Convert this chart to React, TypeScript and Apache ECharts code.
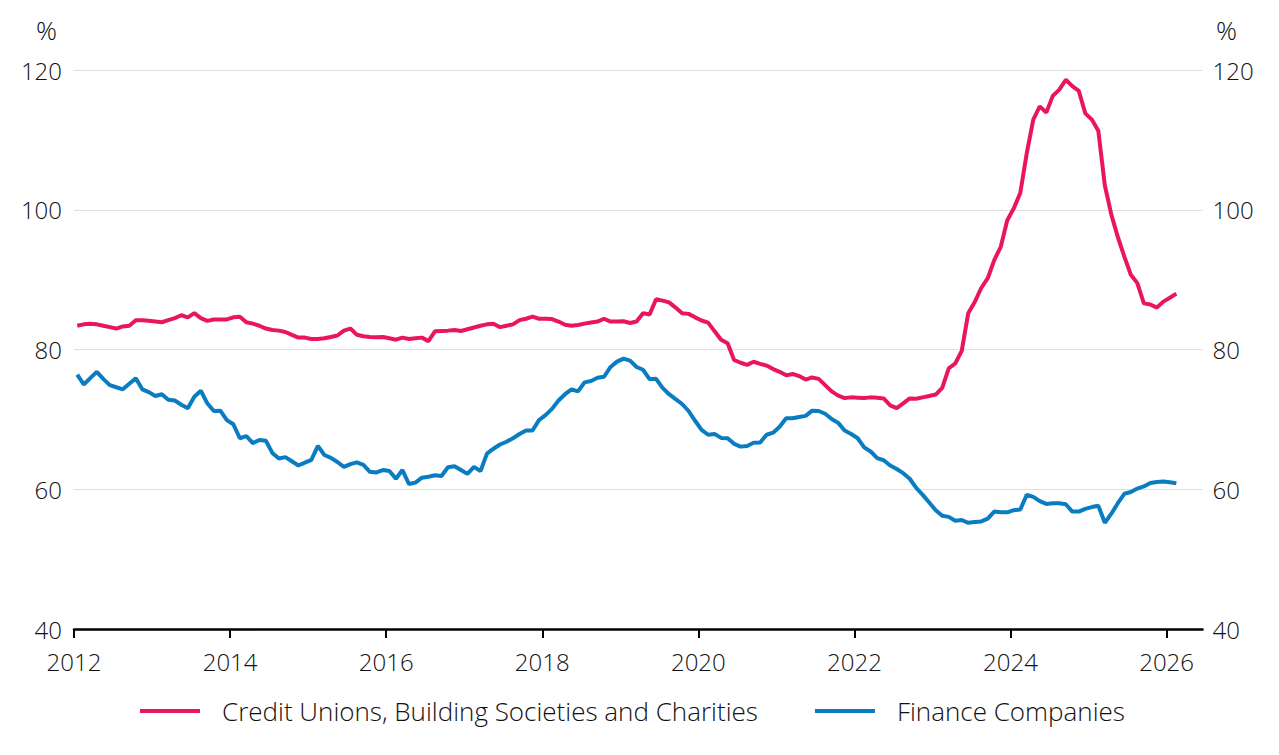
import React, { useEffect, useRef } from "react";
import * as echarts from "echarts";

// Monthly observations, January 2012 onwards (per cent)
const START_YEAR = 2012;

const yearTicks = [2012, 2014, 2016, 2018, 2020, 2022, 2024, 2026];

const creditUnions = [
  83.4, 83.6, 83.7, 83.6, 83.4, 83.2, 83.0, 83.3, 83.4, 84.2, 84.2, 84.1,
  84.0, 83.9, 84.2, 84.5, 84.9, 84.6, 85.2, 84.5, 84.1, 84.3, 84.3, 84.3,
  84.6, 84.7, 83.9, 83.7, 83.4, 83.0, 82.8, 82.7, 82.5, 82.1, 81.7, 81.7,
  81.5, 81.5, 81.6, 81.8, 82.0, 82.7, 83.0, 82.1, 81.9, 81.8, 81.75, 81.8,
  81.6, 81.4, 81.7, 81.5, 81.6, 81.7, 81.2, 82.6, 82.65, 82.7, 82.8, 82.65,
  82.9, 83.15, 83.4, 83.6, 83.7, 83.2, 83.4, 83.6, 84.2, 84.4, 84.7, 84.4,
  84.4, 84.36, 84.0, 83.55, 83.4, 83.5, 83.7, 83.85, 84.0, 84.4, 84.0, 84.0,
  84.05, 83.8, 84.0, 85.2, 85.0, 87.2, 87.0, 86.75, 86.0, 85.2, 85.1, 84.6,
  84.15, 83.85, 82.6, 81.4, 80.9, 78.5, 78.1, 77.8, 78.25, 77.95, 77.7, 77.2,
  76.8, 76.3, 76.5, 76.2, 75.7, 76.0, 75.8, 74.9, 74.0, 73.4, 73.05, 73.15,
  73.1, 73.05, 73.15, 73.1, 73.0, 72.0, 71.6, 72.3, 73.0, 72.95, 73.15, 73.35,
  73.55, 74.5, 77.3, 78.0, 79.8, 85.2, 86.8, 88.8, 90.2, 92.8, 94.7, 98.5,
  100.2, 102.4, 108.1, 112.9, 114.8, 113.9, 116.3, 117.2, 118.6, 117.7, 117.0, 113.8,
  112.9, 111.3, 103.5, 99.3, 96.1, 93.3, 90.7, 89.5, 86.6, 86.45, 86.0, 86.85,
  87.4, 88.0,
];

const financeCompanies = [
  76.4, 75.0, 75.9, 76.8, 75.8, 74.9, 74.6, 74.3, 75.1, 75.9, 74.3, 73.9,
  73.35, 73.6, 72.8, 72.7, 72.1, 71.6, 73.25, 74.1, 72.3, 71.2, 71.25, 69.9,
  69.3, 67.3, 67.6, 66.6, 67.05, 66.95, 65.2, 64.4, 64.6, 64.0, 63.4, 63.8,
  64.2, 66.2, 64.9, 64.5, 63.9, 63.2, 63.6, 63.85, 63.5, 62.5, 62.4, 62.75,
  62.6, 61.5, 62.75, 60.75, 60.95, 61.65, 61.8, 62.0, 61.9, 63.15, 63.3, 62.75,
  62.2, 63.2, 62.6, 65.1, 65.8, 66.4, 66.8, 67.3, 67.9, 68.4, 68.4, 69.9,
  70.6, 71.5, 72.7, 73.6, 74.3, 74.0, 75.3, 75.5, 75.96, 76.1, 77.5, 78.26,
  78.7, 78.4, 77.5, 77.1, 75.75, 75.8, 74.5, 73.6, 72.9, 72.2, 71.2, 69.8,
  68.5, 67.8, 67.9, 67.35, 67.3, 66.5, 66.1, 66.2, 66.65, 66.7, 67.8, 68.1,
  68.95, 70.15, 70.15, 70.35, 70.5, 71.25, 71.2, 70.8, 70.05, 69.5, 68.4, 67.9,
  67.3, 66.0, 65.4, 64.45, 64.15, 63.4, 62.9, 62.3, 61.5, 60.2, 59.2, 58.1,
  57.0, 56.2, 56.05, 55.5, 55.6, 55.2, 55.3, 55.4, 55.8, 56.8, 56.7, 56.7,
  57.0, 57.1, 59.2, 58.9, 58.3, 57.9, 58.0, 58.0, 57.85, 56.8, 56.8, 57.2,
  57.45, 57.65, 55.2, 56.5, 58.0, 59.35, 59.6, 60.1, 60.4, 60.9, 61.05, 61.1,
  61.0, 60.85,
];

const SERIES_NAMES = [
  "Credit Unions, Building Societies and Charities",
  "Finance Companies",
];
const PINK = "#EA1561";
const BLUE = "#0A7CC1";
const TEXT = "#111111";
const FONT = "'Open Sans', 'Noto Sans', sans-serif";

// Mid-month position of observation i, in decimal years
const monthPos = (i: number) => START_YEAR + (i + 0.5) / 12;

export default function App() {
  const ref = useRef<HTMLDivElement>(null);

  useEffect(() => {
    if (!ref.current) return;
    const chart = echarts.init(ref.current, null, { renderer: "svg" });

    const yAxisBase = {
      type: "value" as const,
      min: 40,
      max: 120,
      interval: 20,
      axisLine: { show: false },
      axisTick: { show: false },
    };

    const labelStyle = {
      fontSize: 24,
      fontWeight: 300,
      fontFamily: FONT,
      color: TEXT,
      lineHeight: 24,
    };

    chart.setOption({
      animation: false,
      backgroundColor: "#ffffff",
      textStyle: { fontFamily: FONT },
      grid: { left: 74, right: 76.5, top: 70, bottom: 126, containLabel: false },
      xAxis: {
        type: "value",
        min: START_YEAR,
        max: 2026.46,
        interval: 2,
        axisLine: { show: true, lineStyle: { color: "#000", width: 2.5 } },
        axisTick: {
          show: true,
          length: 9,
          lineStyle: { color: "#000", width: 2 },
          customValues: yearTicks,
        },
        axisLabel: {
          ...labelStyle,
          customValues: yearTicks,
          formatter: (v: number) => String(v),
          margin: 20,
        },
        splitLine: { show: false },
      },
      yAxis: [
        {
          ...yAxisBase,
          position: "left",
          axisLabel: { ...labelStyle, margin: 12 },
          splitLine: { show: true, lineStyle: { color: "#e0e0e0", width: 1 } },
        },
        {
          ...yAxisBase,
          position: "right",
          axisLabel: { ...labelStyle, margin: 10 },
          splitLine: { show: false },
        },
      ],
      legend: {
        left: 135,
        top: 693,
        icon: "rect",
        itemWidth: 60,
        itemHeight: 4,
        itemGap: 57,
        textStyle: {
          fontSize: 26,
          fontWeight: 300,
          fontFamily: FONT,
          color: TEXT,
          padding: [0, 0, 0, 17],
        },
        data: SERIES_NAMES,
      },
      graphic: [
        {
          type: "text",
          left: 36,
          top: 17,
          style: { text: "%", fontSize: 26, fontWeight: 300, fontFamily: FONT, fill: TEXT },
        },
        {
          type: "text",
          left: 1216,
          top: 17,
          style: { text: "%", fontSize: 26, fontWeight: 300, fontFamily: FONT, fill: TEXT },
        },
      ],
      series: [
        {
          name: SERIES_NAMES[0],
          type: "line",
          showSymbol: false,
          color: PINK,
          lineStyle: { color: PINK, width: 4 },
          data: creditUnions.map((v, i) => [monthPos(i), v]),
        },
        {
          name: SERIES_NAMES[1],
          type: "line",
          showSymbol: false,
          color: BLUE,
          lineStyle: { color: BLUE, width: 4 },
          data: financeCompanies.map((v, i) => [monthPos(i), v]),
        },
      ],
    });

    return () => chart.dispose();
  }, []);

  return (
    <div
      ref={ref}
      style={{ position: "fixed", left: 0, top: 0, width: 1279, height: 755, background: "#fff" }}
    />
  );
}
